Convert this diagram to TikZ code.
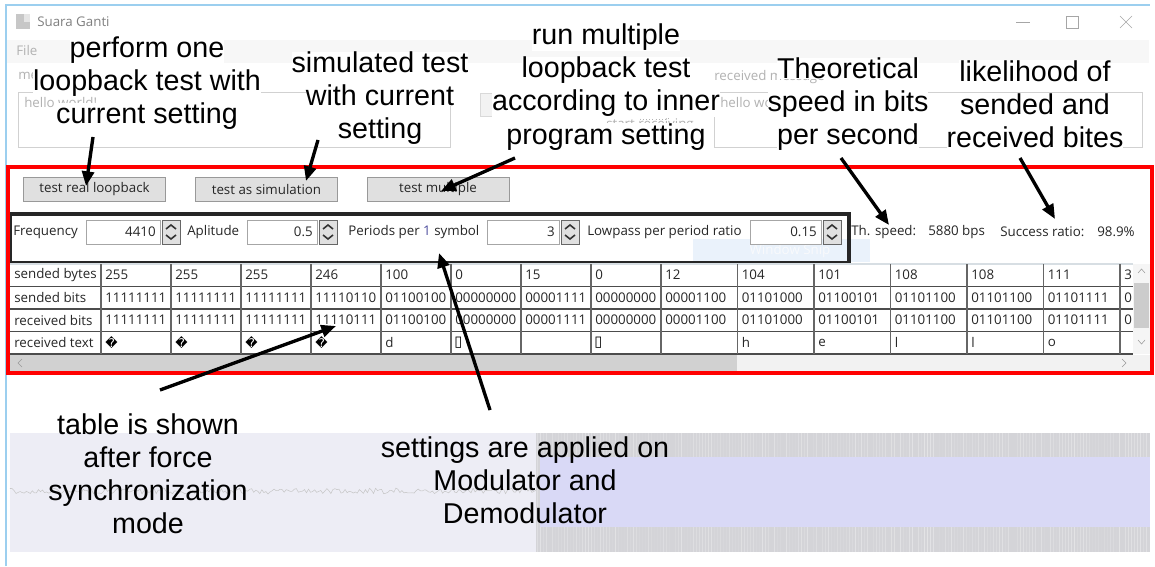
\documentclass[tikz,border=0pt]{standalone}
\usepackage{fontspec}
\setmainfont{Liberation Sans}
\newfontfamily\uifont{Open Sans}
\newfontfamily\symfont{DejaVu Sans}
\usepackage{tikz}
\usetikzlibrary{positioning,arrows.meta,calc}

\definecolor{leftband}{HTML}{EDEDF5}
\definecolor{wavegray}{HTML}{D4D4D8}
\definecolor{lavender}{HTML}{D9D9F6}
\definecolor{winblue}{HTML}{9CCFEF}
\definecolor{snipblue}{HTML}{EAF2FB}

\newcommand{\notefont}{\fontsize{21.5}{24.8}\selectfont}
\newcommand{\uitext}{\uifont\fontsize{10}{11}\selectfont}
\newcommand{\hl}[1]{{\setlength{\fboxsep}{0pt}\colorbox{white}{#1}}}

\begin{document}
\begin{tikzpicture}[
  x=0.75pt, y=-0.75pt,
  note/.style={font=\notefont, align=center, inner sep=0pt},
  pointer/.style={-{Triangle[length=11pt,width=9pt]}, line width=2.5pt},
  uibtn/.style={draw=black!40, fill=black!12, font=\uitext, text=black!85,
                minimum width=106.5pt, minimum height=18pt, inner sep=0pt},
  uilabel/.style={font=\uitext, text=black!85, anchor=west, inner sep=0pt},
  faded/.style={font=\uitext, text=black!30, inner sep=0pt},
  field/.style={draw=black!35, fill=white},
  spin/.style={draw=black!60, fill=black!12},
  cell/.style={font=\uitext, text=black!85, anchor=west, inner sep=0pt},
  odd/.style={font=\symfont\fontsize{9}{10}\selectfont, text=black, anchor=west, inner sep=0pt}
]
  % page
  \fill[white] (0,0) rectangle (1155,566);
  \draw[winblue, line width=1pt] (6,566) -- (6,5) -- (1150,5);

  % faded window parts
  \fill[black!22] (16,14) rectangle (30,29);
  \fill[black!10] (24,14) rectangle (30,22);
  \node[faded, anchor=west, text=black!50] (title) at (37,22) {Suara Ganti};
  \draw[black!35] (1016,22) -- (1030,22);
  \draw[black!35] (1066,16) rectangle (1078,28);
  \draw[black!35] (1120,16) -- (1132,28) (1120,28) -- (1132,16);
  \fill[black!3] (7,40) rectangle (1149,63);
  \node[faded, anchor=west] (filemenu) at (16,51) {File};
  \node[faded, anchor=west] (msglbl) at (18,77) {message};
  \draw[black!18] (18,92) rectangle (450,147);
  \node[faded, anchor=west] (msgtext) at (24,103) {hello world!};
  \draw[black!15, fill=black!5] (480,93) rectangle (613,116);
  \node[faded] (sendbtn) at (546,104) {start sending};
  \draw[black!30, dotted] (640,93) rectangle (668,119);
  \fill[black!30] (650,100) -- (659,106) -- (650,112) -- cycle;
  \node[faded] (recvbtn) at (650,125) {start receiving};
  \node[faded, anchor=west] (recvlbl) at (714,77) {received message};
  \draw[black!18] (714,92) rectangle (1142,147);
  \node[faded, anchor=west] (recvtext) at (720,103) {hello world!};

  % wave view
  \fill[leftband] (10,433) rectangle (536,552);
  \draw[black!22, line width=0.4pt] plot[domain=10:536, samples=260] (\x,{491+6*(rnd-0.5)});
  \fill[wavegray] (536,433) rectangle (1150,552);
  \pgfmathsetseed{11}
  \foreach \k in {0,...,203} {
    \pgfmathsetmacro\sh{int(35*rnd)}
    \draw[white!\sh!wavegray, line width=0.6pt] ({537+3*\k},433) -- ({537+3*\k},552);
  }
  \fill[lavender] (540,457) rectangle (1150,527);

  % buttons
  \node[uibtn] (btnreal) at (94.5,189) {test real loopback};
  \node[uibtn] (btnsim) at (266.5,189) {test as simulation};
  \node[uibtn] (btnmulti) at (438,189) {test multiple};

  % settings row
  \node[uilabel] (freqlbl) at (13,232) {Frequency};
  \node[uilabel] (ampllbl) at (187,232) {Aplitude};
  \node[uilabel] (perlbl) at (348,232) {Periods per {\color{blue!45!black!70}1} symbol};
  \node[uilabel] (lowlbl) at (587,232) {Lowpass per period ratio};
  \fill[snipblue] (693,239) rectangle (870,262);
  \node[faded, text=snipblue!85!black!10] (snip) at (790,251) {Window Snip};
  \foreach \fa/\fb/\fv/\nm in {86/160/4410/freq, 247/317/0.5/ampl, 487/559/3/per, 750/821/0.15/low} {
    \draw[field] (\fa,220) rectangle (\fb,244);
    \node[uilabel, anchor=east] (\nm val) at (\fb-4,232) {\fv};
  }
  \foreach \sx in {162,319,561,823} {
    \draw[spin] (\sx,220) rectangle ++(18,24);
    \draw[line width=1.2pt, black!80] (\sx+4,229) -- (\sx+9,225) -- (\sx+14,229);
    \draw[line width=1.2pt, black!80] (\sx+4,235) -- (\sx+9,239) -- (\sx+14,235);
  }
  \node[uilabel] (speedlbl) at (851,232) {Th. speed:};
  \node[uilabel] (speedval) at (928,232) {5880 bps};
  \node[uilabel] (ratiolbl) at (1000,232) {Success ratio:};
  \node[uilabel] (ratioval) at (1097,232) {98.9\%};
  \draw[black!85, line width=2.3pt] (10,214) rectangle (849,263);

  % table
  \draw[winblue!60!black!25, line width=0.8pt] (10,264) -- (1133,264);
  \foreach \ry in {286.5,309,331.5,354}
    \draw[black!70, line width=1.1pt] (10,\ry) -- (1133,\ry);
  \foreach \cx in {101,171,241,311,381,451,521,591,661,737.5,814,890.5,967,1043.5,1120}
    \draw[black!60, line width=0.8pt] (\cx,264) -- (\cx,354);
  \foreach \ry/\lbl [count=\r] in {275/sended bytes, 297.5/sended bits, 320/received bits, 342.7/received text}
    \node[cell] (row\r) at (14,\ry) {\lbl};
  \begin{scope}
    \clip (10,264) rectangle (1133,354);
    \foreach \cx/\val [count=\k] in {101/255,171/255,241/255,311/246,381/100,451/0,521/15,591/0,661/12,
        737.5/104,814/101,890.5/108,967/108,1043.5/111,1120/3}
      \node[cell] (bytes\k) at (\cx+4,275) {\val};
    \foreach \cx/\val [count=\k] in {101/11111111,171/11111111,241/11111111,311/11110110,381/01100100,
        451/00000000,521/00001111,591/00000000,661/00001100,737.5/01101000,814/01100101,
        890.5/01101100,967/01101100,1043.5/01101111,1120/0}
      \node[cell] (sent\k) at (\cx+4,297.5) {\val};
    \foreach \cx/\val [count=\k] in {101/11111111,171/11111111,241/11111111,311/11110111,381/01100100,
        451/00000000,521/00001111,591/00000000,661/00001100,737.5/01101000,814/01100101,
        890.5/01101100,967/01101100,1043.5/01101111,1120/0}
      \node[cell] (recv\k) at (\cx+4,320) {\val};
    \foreach \cx [count=\k] in {101,171,241,311}
      \node[odd] (bad\k) at (\cx+4,342.7) {�};
    \foreach \cx [count=\k] in {451,591}
      \node[odd, font=\symfont\fontsize{11}{12}\selectfont] (box\k) at (\cx+3,342.7) {▯};
    \foreach \cx/\val [count=\k] in {381/d,737.5/h,814/e,890.5/l,967/l,1043.5/o}
      \node[cell] (text\k) at (\cx+4,342.7) {\val};
  \end{scope}
  % scrollbars
  \fill[black!4] (1133,264) rectangle (1150,354);
  \fill[black!20] (1134,283) rectangle (1149,328);
  \draw[black!40] (1138,273) -- (1141.5,269) -- (1145,273);
  \draw[black!40] (1138,340) -- (1141.5,344) -- (1145,340);
  \fill[black!5] (10,355) rectangle (1150,371);
  \fill[black!18] (10,355) rectangle (737,371);
  \draw[black!40] (22,359) -- (18,363) -- (22,367);
  \draw[black!40] (1122,359) -- (1126,363) -- (1122,367);

  % red frame
  \draw[red, line width=2.5pt] (8,167) rectangle (1152,373);

  % notes
  \node[note] (perform) at (147,83) {\hl{perform one}\\\hl{loopback test with}\\\hl{current setting}};
  \node[note] (simulated) at (380,98) {\hl{simulated test}\\\hl{with current}\\\hl{setting}};
  \node[note] (runmulti) at (606,87) {\hl{run multiple}\\\hl{loopback test}\\\hl{according to inner}\\\hl{program setting}};
  \node[note] (theory) at (848,104) {\hl{Theoretical}\\\hl{speed in bits}\\\hl{per second}};
  \node[note] (likely) at (1035,104) {\hl{likelihood of}\\\hl{sended and}\\\hl{received bites}};
  \node[note] (tableshown) at (148,474) {table is shown\\after force\\synchronization\\mode};
  \node[note] (applied) at (525,480) {settings are applied on\\Modulator and\\Demodulator};

  % arrows
  \coordinate (t1) at (93,137);   \coordinate (h1) at (86,186);
  \coordinate (t2) at (318,140);  \coordinate (h2) at (306,181);
  \coordinate (t3) at (515,158);  \coordinate (h3) at (441,191);
  \coordinate (t4) at (841,158);  \coordinate (h4) at (889,225);
  \coordinate (t5) at (1020,158); \coordinate (h5) at (1055,219);
  \coordinate (t6) at (160,390);  \coordinate (h6) at (336,326);
  \coordinate (t7) at (490,410);  \coordinate (h7) at (439,253);
  \draw[pointer] (t1) -- (h1);
  \draw[pointer] (t2) -- (h2);
  \draw[pointer] (t3) -- (h3);
  \draw[pointer] (t4) -- (h4);
  \draw[pointer] (t5) -- (h5);
  \draw[pointer] (t6) -- (h6);
  \draw[pointer] (t7) -- (h7);
\end{tikzpicture}
\end{document}
